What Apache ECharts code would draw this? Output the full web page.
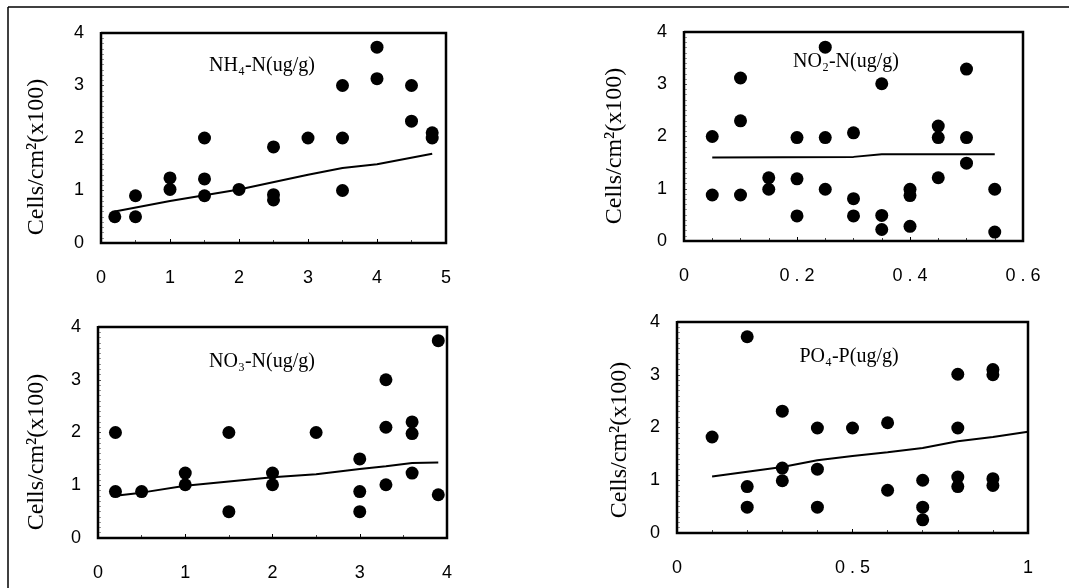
<!DOCTYPE html>
<html><head><meta charset="utf-8">
<script src="https://cdn.jsdelivr.net/npm/echarts@6/dist/echarts.min.js"></script>
<style>html,body{margin:0;padding:0;background:#fff}#c{width:1069px;height:588px}</style>
</head><body><div id="c"></div>
<script>
// ---- Data ----
const yTicks = [0, 1, 2, 3, 4];
const yName = 'Cells/cm²(x100)';
const titles = ['NH₄-N(ug/g)', 'NO₂-N(ug/g)', 'NO₃-N(ug/g)', 'PO₄-P(ug/g)'];

const nh4X = [0.2, 0.5, 0.5, 1.0, 1.0, 1.5, 1.5, 1.5, 2.0, 2.5, 2.5, 2.5, 3.0, 3.5, 3.5, 3.5, 4.0, 4.0, 4.5, 4.5, 4.8, 4.8];
const nh4Y = [0.5, 0.9, 0.5, 1.24, 1.02, 2.0, 1.22, 0.9, 1.02, 1.83, 0.92, 0.82, 2.0, 3.0, 2.0, 1.0, 3.73, 3.13, 3.0, 2.32, 2.1, 2.0];
const nh4FitX = [0.2, 1.0, 2.0, 3.0, 3.5, 4.0, 4.8];
const nh4FitY = [0.6, 0.8, 1.02, 1.3, 1.43, 1.5, 1.7];

const no2X = [0.05, 0.05, 0.1, 0.1, 0.1, 0.15, 0.15, 0.2, 0.2, 0.2, 0.25, 0.25, 0.25, 0.3, 0.3, 0.3, 0.35, 0.35, 0.35, 0.4, 0.4, 0.4, 0.45, 0.45, 0.45, 0.5, 0.5, 0.5, 0.55, 0.55];
const no2Y = [2.0, 0.88, 3.12, 2.3, 0.88, 1.21, 0.99, 1.98, 1.19, 0.48, 3.71, 1.98, 0.99, 2.07, 0.81, 0.48, 3.01, 0.49, 0.22, 0.99, 0.87, 0.28, 2.2, 1.98, 1.21, 3.29, 1.98, 1.49, 0.99, 0.17];
const no2FitX = [0.05, 0.3, 0.35, 0.55];
const no2FitY = [1.6, 1.61, 1.66, 1.66];

const no3X = [0.2, 0.2, 0.5, 1.0, 1.0, 1.5, 1.5, 2.0, 2.0, 2.5, 3.0, 3.0, 3.0, 3.3, 3.3, 3.3, 3.6, 3.6, 3.6, 3.9, 3.9];
const no3Y = [2.0, 0.88, 0.88, 1.23, 1.01, 2.0, 0.5, 1.23, 1.01, 2.0, 1.5, 0.88, 0.5, 3.0, 2.1, 1.01, 2.2, 1.98, 1.23, 3.74, 0.82];
const no3FitX = [0.2, 0.5, 1.0, 1.5, 2.0, 2.5, 3.0, 3.3, 3.6, 3.9];
const no3FitY = [0.8, 0.86, 0.99, 1.07, 1.15, 1.21, 1.31, 1.36, 1.42, 1.43];

const po4X = [0.1, 0.2, 0.2, 0.2, 0.3, 0.3, 0.3, 0.4, 0.4, 0.4, 0.5, 0.6, 0.6, 0.7, 0.7, 0.7, 0.8, 0.8, 0.8, 0.8, 0.9, 0.9, 0.9, 0.9];
const po4Y = [1.82, 3.72, 0.88, 0.49, 2.31, 1.23, 0.99, 1.99, 1.21, 0.49, 1.99, 2.09, 0.81, 1.0, 0.49, 0.25, 3.01, 1.99, 1.06, 0.88, 3.1, 3.0, 1.03, 0.9];
const po4FitX = [0.1, 0.2, 0.3, 0.4, 0.5, 0.6, 0.7, 0.8, 0.9, 1.0];
const po4FitY = [1.07, 1.16, 1.25, 1.38, 1.46, 1.53, 1.61, 1.74, 1.82, 1.92];

const xMax = [5, 0.6, 4, 1];
const xInterval = [1, 0.2, 1, 0.5];
const xMinorSplit = [2, 4, 2, 5];

// ---- Layout ----
const grids = [
  {left: 101, top: 33, width: 345, height: 210},
  {left: 684, top: 32, width: 339, height: 209},
  {left: 98, top: 327, width: 349, height: 211},
  {left: 677, top: 322, width: 351, height: 211}
];
const titlePos = [[262, 66], [846, 62], [262, 362], [849, 357]];
const namePos = [[37, 157], [615, 146], [37, 452], [620, 440]];
const spaced = [false, true, false, true];

const pts = [[nh4X, nh4Y], [no2X, no2Y], [no3X, no3Y], [po4X, po4Y]];
const fits = [[nh4FitX, nh4FitY], [no2FitX, no2FitY], [no3FitX, no3FitY], [po4FitX, po4FitY]];

const zip = (a, b) => a.map((v, i) => [v, b[i]]);

const frameLines = [];
grids.forEach(g => {
  const x0 = g.left, y0 = g.top, x1 = g.left + g.width, y1 = g.top + g.height;
  frameLines.push({
    type: 'polyline', z: 100, silent: true,
    shape: {points: [[x0, y0], [x1, y0], [x1, y1], [x0, y1], [x0, y0 - 1]]},
    style: {stroke: '#000', lineWidth: 2.5, fill: 'transparent'}
  });
});

const option = {
  backgroundColor: '#fff',
  animation: false,
  grid: grids.map(g => Object.assign({show: false, containLabel: false}, g)),
  xAxis: grids.map((g, i) => ({
    gridIndex: i, type: 'value', min: 0, max: xMax[i], interval: xInterval[i],
    axisLine: {show: false},
    axisTick: {show: true, inside: true, length: 4, lineStyle: {color: '#000', width: 1}},
    minorTick: {show: true, splitNumber: xMinorSplit[i], length: 3, lineStyle: {color: '#444', width: 1}},
    splitLine: {show: false},
    axisLabel: {
      color: '#000', fontFamily: 'Liberation Sans, Arial, sans-serif', fontSize: 18, margin: 26,
      showMinLabel: true, showMaxLabel: true,
      formatter: v => spaced[i] ? String(+v.toFixed(2)).split('').join(' ') : String(v)
    }
  })),
  yAxis: grids.map((g, i) => ({
    gridIndex: i, type: 'value', min: 0, max: 4, interval: 1,
    axisLine: {show: false},
    axisTick: {show: true, inside: true, length: 3, lineStyle: {color: '#555', width: 1}},
    minorTick: {show: true, splitNumber: 10, length: 3, lineStyle: {color: '#999', width: 1}},
    splitLine: {show: false},
    axisLabel: {color: '#000', fontFamily: 'Liberation Sans, Arial, sans-serif', fontSize: 18, margin: 17,
      formatter: v => yTicks.includes(v) ? String(v) : ''}
  })),
  series: [].concat(
    pts.map((p, i) => ({
      type: 'scatter', xAxisIndex: i, yAxisIndex: i, data: zip(p[0], p[1]),
      symbol: 'circle', symbolSize: 13, itemStyle: {color: '#000', opacity: 1}, z: 3
    })),
    fits.map((f, i) => ({
      type: 'line', xAxisIndex: i, yAxisIndex: i, data: zip(f[0], f[1]),
      showSymbol: false, symbol: 'none', lineStyle: {color: '#000', width: 2, opacity: 1}, z: 2
    }))
  ),
  graphic: [].concat(
    [
      {type: 'line', shape: {x1: 8, y1: 7, x2: 1069, y2: 7}, style: {stroke: '#000', lineWidth: 1.5}},
      {type: 'line', shape: {x1: 8, y1: 7, x2: 8, y2: 588}, style: {stroke: '#000', lineWidth: 1.5}}
    ],
    frameLines,
    titles.map((t, i) => ({
      type: 'text', x: titlePos[i][0], y: titlePos[i][1],
      style: {text: t, fill: '#000', font: '20px "Liberation Serif", "Times New Roman", serif', textAlign: 'center', textVerticalAlign: 'middle'}
    })),
    namePos.map(p => ({
      type: 'text', x: p[0], y: p[1], rotation: Math.PI / 2,
      style: {text: yName, fill: '#000', font: '24px "Liberation Serif", "Times New Roman", serif', textAlign: 'center', textVerticalAlign: 'middle'}
    }))
  )
};

const chart = echarts.init(document.getElementById('c'), null, {renderer: 'canvas'});
chart.setOption(option);
</script>
</body></html>
